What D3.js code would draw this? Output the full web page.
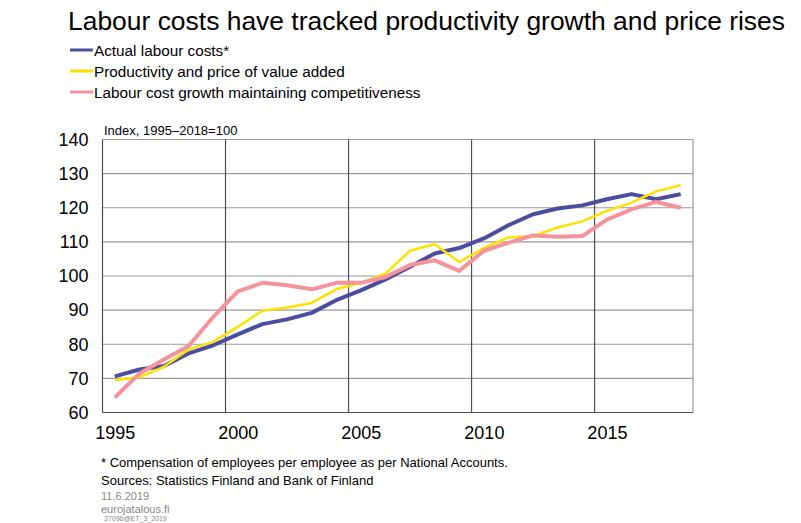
<!DOCTYPE html>
<html><head><meta charset="utf-8">
<script src="https://cdn.jsdelivr.net/npm/d3@7"></script>
<style>body{margin:0;background:#fff}svg{display:block;font-family:"Liberation Sans",Arial,sans-serif}</style>
</head><body>
<script>
const years = d3.range(1995, 2019);
const actualLabourCosts = [70.6,72.6,73.6,77.3,79.7,82.9,85.9,87.3,89.2,92.9,95.8,99.0,102.7,106.6,108.2,111.0,114.9,118.1,119.8,120.7,122.5,124.0,122.5,124.0];
const productivityPrice = [69.5,70.3,73.4,78.5,80.7,85.1,89.8,90.8,92.1,96.1,98.0,100.7,107.4,109.3,104.1,108.2,111.3,111.7,114.2,116.0,119.1,121.5,124.8,126.6];
const competitiveness = [64.4,71.4,75.5,79.5,88.0,95.5,98.0,97.3,96.1,98.0,98.0,99.7,103.2,104.6,101.5,107.4,109.7,111.9,111.5,111.7,116.5,119.5,121.7,120.0];
const seriesNames = ["Actual labour costs*","Productivity and price of value added","Labour cost growth maintaining competitiveness"];
const yTicks = [60,70,80,90,100,110,120,130,140];
const xTickYears = [1995,2000,2005,2010,2015];

const series = [
  {name: seriesNames[0], values: actualLabourCosts, color: "#4b4e9e", width: 4},
  {name: seriesNames[1], values: productivityPrice, color: "#ffe000", width: 2.5},
  {name: seriesNames[2], values: competitiveness, color: "#f4939b", width: 4}
];

const W = 801, H = 523;
const L = 102.5, R = 693, T = 139.5, B = 412.5;
const svg = d3.select("body").append("svg").attr("width", W).attr("height", H);

const x = d3.scaleLinear().domain([1995, 2019]).range([L, R]);
const y = d3.scaleLinear().domain([60, 140]).range([B, T]);

// Title
svg.append("text").attr("x", 68).attr("y", 30).attr("font-size", 26).attr("fill", "#000")
  .attr("textLength", 717).attr("lengthAdjust", "spacingAndGlyphs")
  .text("Labour costs have tracked productivity growth and price rises");

// Legend
const leg = svg.append("g");
series.forEach((s, i) => {
  const yy = 50 + i * 21;
  leg.append("line").attr("x1", 70).attr("x2", 93).attr("y1", yy).attr("y2", yy)
    .attr("stroke", s.color).attr("stroke-width", 3);
  leg.append("text").attr("x", 94).attr("y", yy + 6).attr("font-size", 15.3).attr("fill", "#000").text(s.name);
});

// Grid
const g = svg.append("g");
g.selectAll(".hg").data(yTicks).join("line")
  .attr("x1", L).attr("x2", R).attr("y1", d => y(d)).attr("y2", d => y(d))
  .attr("stroke", "#9a9a9a").attr("stroke-width", 1.2);
g.selectAll(".vg").data(xTickYears.slice(1)).join("line")
  .attr("x1", d => x(d)).attr("x2", d => x(d)).attr("y1", T).attr("y2", B)
  .attr("stroke", "#505050").attr("stroke-width", 1.2);
g.append("line").attr("x1", R).attr("x2", R).attr("y1", T).attr("y2", B).attr("stroke", "#9a9a9a").attr("stroke-width", 1.2);
g.append("line").attr("x1", L).attr("x2", L).attr("y1", T).attr("y2", B).attr("stroke", "#505050").attr("stroke-width", 1.2);
g.append("line").attr("x1", L).attr("x2", R).attr("y1", B).attr("y2", B).attr("stroke", "#505050").attr("stroke-width", 1.2);

// Axes labels
const yAxis = d3.axisLeft(y).tickValues(yTicks).tickSize(0).tickPadding(14);
const ya = svg.append("g").attr("transform", `translate(${L},0)`).call(yAxis);
ya.select(".domain").remove();
ya.selectAll("text").attr("font-size", 18).attr("fill", "#000").attr("font-family", "Liberation Sans, Arial, sans-serif");

const xAxis = d3.axisBottom(x).tickValues(xTickYears.map(d => d + 0.5)).tickFormat(d => Math.floor(d)).tickSize(0).tickPadding(14);
const xa = svg.append("g").attr("transform", `translate(0,${B})`).call(xAxis);
xa.select(".domain").remove();
xa.selectAll("text").attr("font-size", 18).attr("fill", "#000").attr("font-family", "Liberation Sans, Arial, sans-serif");

svg.append("text").attr("x", 104).attr("y", 135).attr("font-size", 13).attr("fill", "#000").text("Index, 1995–2018=100");

// Lines
const line = d3.line().x((d, i) => x(years[i] + 0.5)).y(d => y(d));
series.forEach(s => {
  svg.append("path").datum(s.values).attr("d", line).attr("fill", "none")
    .attr("stroke", s.color).attr("stroke-width", s.width).attr("stroke-linejoin", "round");
});

// Footer
svg.append("text").attr("x", 101).attr("y", 467).attr("font-size", 13).attr("fill", "#000")
  .text("* Compensation of employees per employee as per National Accounts.");
svg.append("text").attr("x", 101).attr("y", 485).attr("font-size", 13).attr("fill", "#000")
  .text("Sources: Statistics Finland and Bank of Finland");
svg.append("text").attr("x", 101).attr("y", 500).attr("font-size", 11).attr("fill", "#888")
  .text("11.6.2019");
svg.append("text").attr("x", 101).attr("y", 513).attr("font-size", 11).attr("fill", "#888")
  .text("eurojatalous.fi");
svg.append("text").attr("x", 104).attr("y", 521).attr("font-size", 7).attr("fill", "#888")
  .text("37096@ET_3_2019");
</script>
</body></html>
